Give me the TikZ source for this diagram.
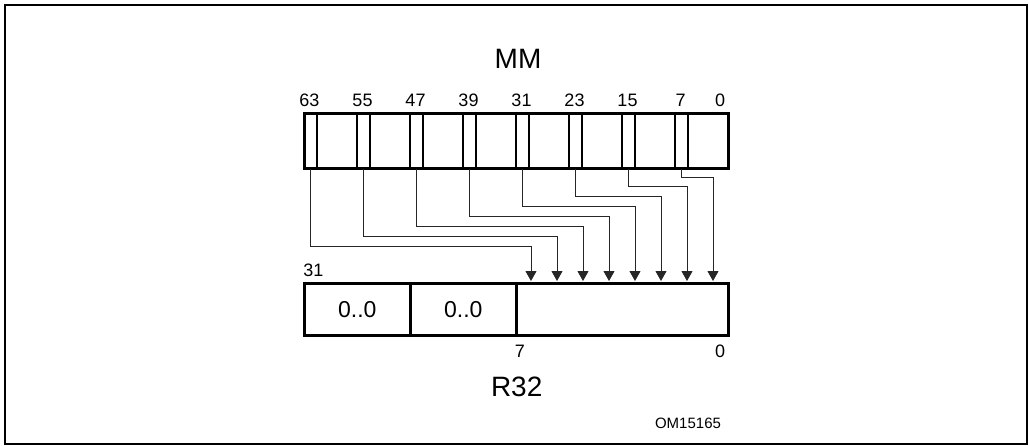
\documentclass[tikz,border=0pt]{standalone}
\usepackage{fontspec}
\setmainfont{Liberation Sans}
\usetikzlibrary{arrows.meta}
\tikzset{
  strip/.style={draw, line width=1.5pt, minimum width=13pt, minimum height=55pt, inner sep=0pt, anchor=north west},
  regbox/.style={draw, line width=3pt, minimum width=424pt, minimum height=55pt, inner sep=0pt, anchor=north west},
  rcell/.style={draw, line width=2.5pt, minimum height=52pt, inner sep=0pt, anchor=north west},
  conn/.style={line width=1pt, draw=black!85, -{Triangle[width=11pt,length=10pt]}},
  bitlbl/.style={inner sep=0pt, font=\fontsize{18}{21}\selectfont},
  bigl/.style={inner sep=0pt, font=\fontsize{28}{31}\selectfont},
  zerol/.style={inner sep=0pt, font=\fontsize{23}{27}\selectfont},
  smalll/.style={inner sep=0pt, font=\fontsize{15}{18}\selectfont},
}
\begin{document}
\begin{tikzpicture}[x=1pt,y=-1pt]
\useasboundingbox (0,0) rectangle (1029,445);
\draw[line width=2pt] (5,5) rectangle (1027,443.5);
% MM register
\node[bigl] (mmlbl) at (518,59) {MM};
\foreach \b [count=\i from 0] in {63,55,47,39,31,23,15,7} {
  \node[strip] (b\b) at ({303+53*\i},112) {};
  \node[bitlbl] (l\b) at ({309.5+53*\i},100.7) {\b};
}
\node[bitlbl] (l0) at (720,100.7) {0};
\node[regbox] (mm) at (303,112) {};
% R32 register
\node[rcell, minimum width=106pt] (z1) at (303,282) {};
\node[rcell, minimum width=106pt] (z2) at (409,282) {};
\node[rcell, minimum width=212pt] (low) at (515,282) {};
\node[zerol] (z1t) at (z1.center) {0..0};
\node[zerol] (z2t) at (z2.center) {0..0};
\node[bitlbl] (r31) at (313.3,270.7) {31};
\node[bitlbl] (r7) at (520,351.7) {7};
\node[bitlbl] (r0) at (720,351.7) {0};
\node[bigl] (r32) at (516.7,386.7) {R32};
\node[smalll] (om) at (688,423.3) {OM15165};
% connectors
\foreach \b [count=\i from 0] in {63,55,47,39,31,23,15} {
  \coordinate (h\b) at ({531+26*\i},{246.7-10*\i});
  \coordinate (t\b) at ({531+26*\i},281);
  \draw[conn] (b\b.south) |- (h\b) -- (t\b);
}
\coordinate (h7) at (713,177.3);
\coordinate (t7) at (713,281);
\draw[conn] (b7.south) |- (h7) -- (t7);
\end{tikzpicture}
\end{document}
